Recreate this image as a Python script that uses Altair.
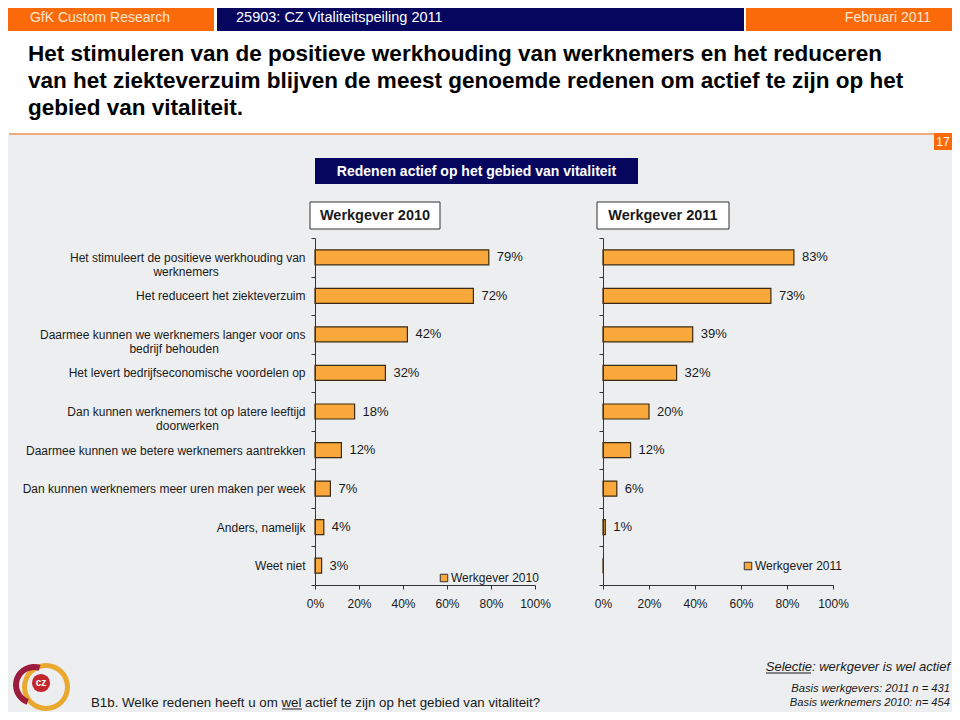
import altair as alt
import pandas as pd

# ---------------- data ----------------
# trailing no-break spaces (closed by a word joiner so they are not trimmed)
# keep the short second line of a two-line label centred under the first one
NB = "\u00a0" * 26 + "\u2060"
categories = [
    "Het stimuleert de positieve werkhouding van|werknemers" + NB,
    "Het reduceert het ziekteverzuim",
    "Daarmee kunnen we werknemers langer voor ons|bedrijf behouden" + NB,
    "Het levert bedrijfseconomische voordelen op",
    "Dan kunnen werknemers tot op latere leeftijd|doorwerken" + NB,
    "Daarmee kunnen we betere werknemers aantrekken",
    "Dan kunnen werknemers meer uren maken per week",
    "Anders, namelijk",
    "Weet niet",
]
werkgever_2010 = [79, 72, 42, 32, 18, 12, 7, 4, 3]
werkgever_2011 = [83, 73, 39, 32, 20, 12, 6, 1, 0]
series = ["Werkgever 2010", "Werkgever 2011"]
x_ticks = [0, 20, 40, 60, 80, 100]

header_left = "GfK Custom Research"
header_mid = "25903: CZ Vitaliteitspeiling 2011"
header_right = "Februari 2011"
title_lines = [
    "Het stimuleren van de positieve werkhouding van werknemers en het reduceren",
    "van het ziekteverzuim blijven de meest genoemde redenen om actief te zijn op het",
    "gebied van vitaliteit.",
]
subtitle = "Redenen actief op het gebied van vitaliteit"
page_no = "17"
question = "B1b. Welke redenen heeft u om wel actief te zijn op het gebied van vitaliteit?"
footer_right = [
    "Selectie: werkgever is wel actief",
    "Basis werkgevers: 2011 n = 431",
    "Basis werknemers 2010: n= 454",
]

FONT = "Liberation Sans"
ORANGE = "#fb6a0a"
NAVY = "#06065f"
BAR = "#f9a93b"
BAR_STROKE = "#3d2a12"
BG = "#eceef0"
TXT = "#1a1a1a"

df = pd.DataFrame({
    "cat": categories,
    "v2010": werkgever_2010,
    "v2011": werkgever_2011,
})
df["lab2010"] = [f"{v}%" for v in werkgever_2010]
df["lab2011"] = [f"{v}%" for v in werkgever_2011]
df["s2010"] = series[0]
df["s2011"] = series[1]

# plot-area geometry of the two panels (pixels)
PW_L, PW_R, PH = 220, 230, 347
GAP = 68
# decorations are placed in page pixels relative to the left panel origin
OX, OY = 315, 238
# the drawing spans page pixels 8..952 x 8..712 (the 8px page margin around it)
L, T, R, B = 8, 8, 952, 712
one = pd.DataFrame({"k": [1]})

def rect(x1, y1, x2, y2, **kw):
    return alt.Chart(one).mark_rect(**kw).encode(
        x=alt.value(x1 - OX), x2=alt.value(x2 - OX),
        y=alt.value(y1 - OY), y2=alt.value(y2 - OY))

def text(t, x, y, **kw):
    return alt.Chart(one).mark_text(text=t, font=FONT, **kw).encode(
        x=alt.value(x - OX), y=alt.value(y - OY))

def rule(x1, y1, x2, y2, **kw):
    return alt.Chart(one).mark_rule(**kw).encode(
        x=alt.value(x1 - OX), x2=alt.value(x2 - OX),
        y=alt.value(y1 - OY), y2=alt.value(y2 - OY))

def arc(x, y, **kw):
    return alt.Chart(one).mark_arc(**kw).encode(
        x=alt.value(x - OX), y=alt.value(y - OY))

# ---------------- scales / axes ----------------
y_scale = alt.Scale(domain=categories, paddingInner=0, paddingOuter=0)
x_scale = alt.Scale(domain=[0, 100])

axis_common = dict(
    title=None, grid=False, domainColor="#333333", tickColor="#333333",
    labelFont=FONT, labelColor=TXT, zindex=1,
)
y_axis_L = alt.Axis(
    tickBand="extent", tickSize=4, labelPadding=6,
    labelFontSize=12, labelLimit=400, labelExpr="split(datum.label, '|')",
    labelLineHeight=14, labelOverlap=False, **axis_common)
y_axis_R = alt.Axis(tickBand="extent", tickSize=4, labels=False, **axis_common)
x_axis = alt.Axis(
    values=x_ticks, tickSize=4, labelPadding=9, labelFontSize=12,
    labelExpr="datum.value + '%'", labelFlush=False, **axis_common)

base = alt.Chart(df)

bars_L = base.mark_bar(size=15, stroke=BAR_STROKE, strokeWidth=1.2).encode(
    x=alt.X("v2010:Q", scale=x_scale, axis=x_axis),
    y=alt.Y("cat:N", scale=y_scale, axis=y_axis_L, sort=categories),
    color=alt.Color("s2010:N", scale=alt.Scale(domain=[series[0]], range=[BAR]),
                    legend=alt.Legend(orient="none", legendX=123, legendY=334, title=None,
                                      zindex=1)),
)
labels_L = base.mark_text(align="left", baseline="middle", dx=8, fontSize=13,
                          font=FONT, color=TXT).encode(
    x=alt.X("v2010:Q", scale=x_scale),
    y=alt.Y("cat:N", scale=y_scale, sort=categories),
    text="lab2010:N",
)
bars_R = base.mark_bar(size=15, stroke=BAR_STROKE, strokeWidth=1.2).encode(
    x=alt.X("v2011:Q", scale=x_scale, axis=x_axis),
    y=alt.Y("cat:N", scale=y_scale, axis=y_axis_R, sort=categories),
    color=alt.Color("s2011:N", scale=alt.Scale(domain=[series[1]], range=[BAR]),
                    legend=alt.Legend(orient="none", legendX=139, legendY=322, title=None,
                                      zindex=1)),
)
labels_R = base.transform_filter("datum.v2011 > 0").mark_text(
    align="left", baseline="middle", dx=8, fontSize=13, font=FONT, color=TXT).encode(
    x=alt.X("v2011:Q", scale=x_scale),
    y=alt.Y("cat:N", scale=y_scale, sort=categories),
    text="lab2011:N",
)

# ---------------- decorations (page pixel coordinates) ----------------
deco = [
    rect(L, T, R, 135, color="white"),
    rect(L, 135, R, B, color=BG),
    # header bar
    rect(L, T, 214, 31, color=ORANGE),
    rect(217, T, 744, 31, color=NAVY),
    rect(746, T, R, 31, color=ORANGE),
    text(header_left, 100, 18, align="center", baseline="middle", fontSize=14, color="#fde6cf"),
    text(header_mid, 236, 18, align="left", baseline="middle", fontSize=14.5, color="white"),
    text(header_right, 931, 18, align="right", baseline="middle", fontSize=14, color="#fde6cf"),
    # title
    text(title_lines, 28, 43, align="left", baseline="top", fontSize=22.5,
         fontWeight="bold", lineHeight=27, color="black"),
    # divider + page number
    rule(9, 134, 934, 134, color="#eeaa77", strokeWidth=2),
    rect(934, 133, R, 150, color=ORANGE),
    text(page_no, 943, 142, align="center", baseline="middle", fontSize=12, color="white"),
    # subtitle
    rect(315, 158, 638, 184, color=NAVY),
    text(subtitle, 476.5, 171.5, align="center", baseline="middle", fontSize=14,
         fontWeight="bold", color="white"),
    # panel headers
    rect(310, 202, 440, 229, fill="white", stroke="#333333", strokeWidth=1),
    text(series[0], 375, 216, align="center", baseline="middle", fontSize=14.5,
         fontWeight="bold", color=TXT),
    rect(597, 202, 729, 229, fill="white", stroke="#333333", strokeWidth=1),
    text(series[1], 663, 216, align="center", baseline="middle", fontSize=14.5,
         fontWeight="bold", color=TXT),
    # footer
    text(question, 91, 703, align="left", baseline="middle", fontSize=13.3, color=TXT),
    rule(282, 709, 302, 709, color=TXT, strokeWidth=1),
    text(footer_right[0], 950, 667, align="right", baseline="middle", fontSize=13,
         fontStyle="italic", color=TXT),
    rule(766, 673, 811, 673, color=TXT, strokeWidth=1),
    text(footer_right[1], 950, 689, align="right", baseline="middle", fontSize=11.2,
         fontStyle="italic", color=TXT),
    text(footer_right[2], 950, 703, align="right", baseline="middle", fontSize=11.2,
         fontStyle="italic", color=TXT),
    # logo
    arc(46, 687, radius=19, radius2=24, theta=0, theta2=6.2832, color="#e9a82e"),
    arc(34, 685, radius=15, radius2=21, theta=3.5, theta2=6.6, color="#9b1c3c"),
    alt.Chart(one).mark_point(shape="circle", size=330, filled=True, opacity=1,
                              color="#c2262e").encode(x=alt.value(41 - OX), y=alt.value(683 - OY)),
    text("cz", 41, 683, align="center", baseline="middle", fontSize=10,
         fontWeight="bold", color="white"),
]

left = alt.layer(*deco, bars_L, labels_L).properties(width=PW_L, height=PH)
right = alt.layer(bars_R, labels_R).properties(width=PW_R, height=PH)

chart = alt.hconcat(left, right, spacing=GAP, bounds="flush").resolve_scale(
    x="independent", y="independent", color="independent"
).properties(
    padding=0, background="white",
).configure_view(stroke=None).configure_legend(
    symbolType="square", symbolSize=56, symbolStrokeColor="#333333",
    symbolStrokeWidth=1, labelFont=FONT, labelFontSize=12, labelColor=TXT,
    padding=0, labelOffset=1,
)

chart.save("out.html", embed_options={"renderer": "svg", "actions": False})
